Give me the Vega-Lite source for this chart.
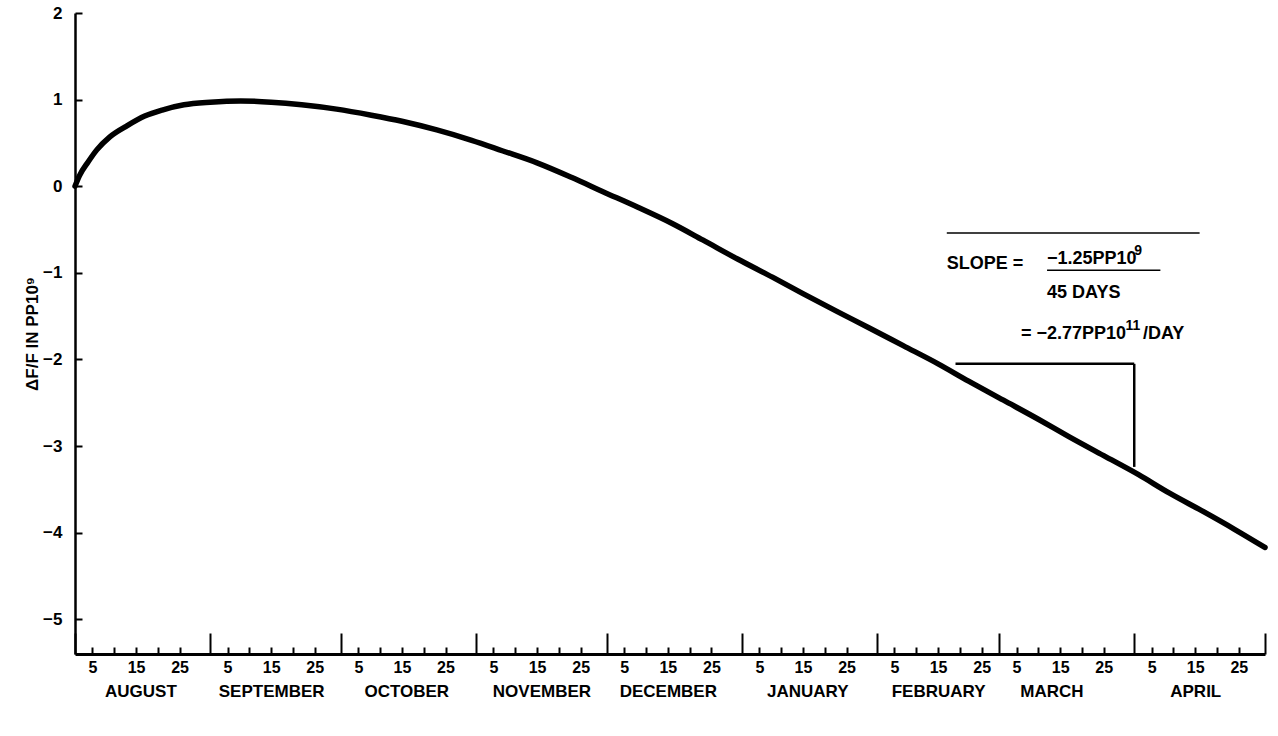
{
  "$schema": "https://vega.github.io/schema/vega-lite/v6.json",
  "width": 1190,
  "height": 641,
  "autosize": {"type": "none"},
  "padding": {"left": 75, "top": 13, "right": 13, "bottom": 82},
  "background": "white",
  "config": {
    "view": {"stroke": null},
    "font": "Liberation Sans",
    "axis": {
      "grid": false,
      "labelFont": "Liberation Sans",
      "labelFontWeight": "bold",
      "labelColor": "black",
      "titleFont": "Liberation Sans",
      "titleFontWeight": "bold",
      "titleColor": "black",
      "domainColor": "black",
      "tickColor": "black"
    }
  },
  "datasets": {
    "curve": [
      {"date": "1978-08-01", "value": 0.0},
      {"date": "1978-08-02", "value": 0.12},
      {"date": "1978-08-04", "value": 0.28},
      {"date": "1978-08-06", "value": 0.42},
      {"date": "1978-08-09", "value": 0.57},
      {"date": "1978-08-13", "value": 0.7},
      {"date": "1978-08-17", "value": 0.81},
      {"date": "1978-08-21", "value": 0.88},
      {"date": "1978-08-26", "value": 0.94},
      {"date": "1978-09-01", "value": 0.97},
      {"date": "1978-09-08", "value": 0.985},
      {"date": "1978-09-15", "value": 0.97},
      {"date": "1978-09-22", "value": 0.94},
      {"date": "1978-09-30", "value": 0.89},
      {"date": "1978-10-08", "value": 0.82},
      {"date": "1978-10-15", "value": 0.75},
      {"date": "1978-10-23", "value": 0.65},
      {"date": "1978-10-31", "value": 0.53},
      {"date": "1978-11-07", "value": 0.41},
      {"date": "1978-11-15", "value": 0.27},
      {"date": "1978-11-23", "value": 0.1},
      {"date": "1978-11-30", "value": -0.06},
      {"date": "1978-12-08", "value": -0.24},
      {"date": "1978-12-16", "value": -0.43},
      {"date": "1978-12-23", "value": -0.62},
      {"date": "1978-12-31", "value": -0.84},
      {"date": "1979-01-08", "value": -1.05},
      {"date": "1979-01-15", "value": -1.24},
      {"date": "1979-01-23", "value": -1.45},
      {"date": "1979-01-30", "value": -1.63},
      {"date": "1979-02-07", "value": -1.84},
      {"date": "1979-02-15", "value": -2.05},
      {"date": "1979-02-22", "value": -2.25},
      {"date": "1979-03-02", "value": -2.47},
      {"date": "1979-03-10", "value": -2.69},
      {"date": "1979-03-17", "value": -2.89},
      {"date": "1979-03-25", "value": -3.11},
      {"date": "1979-04-02", "value": -3.33},
      {"date": "1979-04-09", "value": -3.54},
      {"date": "1979-04-17", "value": -3.76},
      {"date": "1979-04-24", "value": -3.96},
      {"date": "1979-05-01", "value": -4.17}
    ],
    "triangle": [
      {"date": "1979-02-19", "date2": "1979-04-01", "value": -2.05, "value2": -2.05},
      {"date": "1979-04-01", "date2": "1979-04-01", "value": -2.05, "value2": -3.24}
    ],
    "rules": [
      {"date": "1979-02-17", "date2": "1979-04-16", "value": -0.54, "value2": -0.54},
      {"date": "1979-03-12", "date2": "1979-04-07", "value": -0.97, "value2": -0.97}
    ],
    "notes": [
      {"date": "1979-02-17", "value": -0.9, "label": "SLOPE ="},
      {"date": "1979-03-12", "value": -0.84, "label": "−1.25PP10"},
      {"date": "1979-03-12", "value": -1.23, "label": "45 DAYS"},
      {"date": "1979-03-06", "value": -1.7, "label": "= −2.77PP10"},
      {"date": "1979-04-03", "value": -1.7, "label": "/DAY"}
    ],
    "supers": [
      {"date": "1979-04-01", "value": -0.84, "label": "9"},
      {"date": "1979-03-30", "value": -1.7, "label": "11"}
    ]
  },
  "layer": [
    {
      "data": {"name": "curve"},
      "mark": {"type": "line", "color": "black", "strokeWidth": 5.5, "interpolate": "monotone", "strokeCap": "round"},
      "encoding": {
        "x": {
          "field": "date", "type": "temporal",
          "scale": {"type": "utc", "domain": [{"year": 1978, "month": 8, "date": 1, "utc": true}, {"year": 1979, "month": 5, "date": 1, "utc": true}], "nice": false},
          "axis": {
            "title": null,
            "orient": "bottom",
            "domainWidth": 3,
            "tickWidth": 2,
            "tickSize": {"condition": {"test": "utcdate(datum.value) == 1", "value": -21}, "value": -7},
            "labelPadding": 12,
            "labelFontSize": 16,
            "labelBaseline": "top",
            "labelOverlap": false,
            "labelFlush": false,
            "labelBound": false,
            "labelExpr": "utcdate(datum.value) % 10 == 5 ? '' + utcdate(datum.value) : ''",
            "values": [
              {"year": 1978, "month": 8, "date": 1, "utc": true},
              {"year": 1978, "month": 8, "date": 5, "utc": true},
              {"year": 1978, "month": 8, "date": 10, "utc": true},
              {"year": 1978, "month": 8, "date": 15, "utc": true},
              {"year": 1978, "month": 8, "date": 20, "utc": true},
              {"year": 1978, "month": 8, "date": 25, "utc": true},
              {"year": 1978, "month": 9, "date": 1, "utc": true},
              {"year": 1978, "month": 9, "date": 5, "utc": true},
              {"year": 1978, "month": 9, "date": 10, "utc": true},
              {"year": 1978, "month": 9, "date": 15, "utc": true},
              {"year": 1978, "month": 9, "date": 20, "utc": true},
              {"year": 1978, "month": 9, "date": 25, "utc": true},
              {"year": 1978, "month": 10, "date": 1, "utc": true},
              {"year": 1978, "month": 10, "date": 5, "utc": true},
              {"year": 1978, "month": 10, "date": 10, "utc": true},
              {"year": 1978, "month": 10, "date": 15, "utc": true},
              {"year": 1978, "month": 10, "date": 20, "utc": true},
              {"year": 1978, "month": 10, "date": 25, "utc": true},
              {"year": 1978, "month": 11, "date": 1, "utc": true},
              {"year": 1978, "month": 11, "date": 5, "utc": true},
              {"year": 1978, "month": 11, "date": 10, "utc": true},
              {"year": 1978, "month": 11, "date": 15, "utc": true},
              {"year": 1978, "month": 11, "date": 20, "utc": true},
              {"year": 1978, "month": 11, "date": 25, "utc": true},
              {"year": 1978, "month": 12, "date": 1, "utc": true},
              {"year": 1978, "month": 12, "date": 5, "utc": true},
              {"year": 1978, "month": 12, "date": 10, "utc": true},
              {"year": 1978, "month": 12, "date": 15, "utc": true},
              {"year": 1978, "month": 12, "date": 20, "utc": true},
              {"year": 1978, "month": 12, "date": 25, "utc": true},
              {"year": 1979, "month": 1, "date": 1, "utc": true},
              {"year": 1979, "month": 1, "date": 5, "utc": true},
              {"year": 1979, "month": 1, "date": 10, "utc": true},
              {"year": 1979, "month": 1, "date": 15, "utc": true},
              {"year": 1979, "month": 1, "date": 20, "utc": true},
              {"year": 1979, "month": 1, "date": 25, "utc": true},
              {"year": 1979, "month": 2, "date": 1, "utc": true},
              {"year": 1979, "month": 2, "date": 5, "utc": true},
              {"year": 1979, "month": 2, "date": 10, "utc": true},
              {"year": 1979, "month": 2, "date": 15, "utc": true},
              {"year": 1979, "month": 2, "date": 20, "utc": true},
              {"year": 1979, "month": 2, "date": 25, "utc": true},
              {"year": 1979, "month": 3, "date": 1, "utc": true},
              {"year": 1979, "month": 3, "date": 5, "utc": true},
              {"year": 1979, "month": 3, "date": 10, "utc": true},
              {"year": 1979, "month": 3, "date": 15, "utc": true},
              {"year": 1979, "month": 3, "date": 20, "utc": true},
              {"year": 1979, "month": 3, "date": 25, "utc": true},
              {"year": 1979, "month": 4, "date": 1, "utc": true},
              {"year": 1979, "month": 4, "date": 5, "utc": true},
              {"year": 1979, "month": 4, "date": 10, "utc": true},
              {"year": 1979, "month": 4, "date": 15, "utc": true},
              {"year": 1979, "month": 4, "date": 20, "utc": true},
              {"year": 1979, "month": 4, "date": 25, "utc": true},
              {"year": 1979, "month": 5, "date": 1, "utc": true}
            ]
          }
        },
        "y": {
          "field": "value", "type": "quantitative",
          "scale": {"domain": [-5.4, 2], "nice": false, "zero": false},
          "axis": {
            "title": "ΔF/F IN PP10⁹",
            "orient": "left",
            "titleFontSize": 17,
            "titlePadding": 1,
            "values": [-5, -4, -3, -2, -1, 0, 1, 2],
            "domainWidth": 2.5,
            "tickWidth": 2,
            "tickSize": -7,
            "labelPadding": 20,
            "labelFontSize": 17,
            "labelFlush": false,
            "labelBound": false
          }
        }
      }
    },
    {
      "data": {"name": "triangle"},
      "mark": {"type": "rule", "color": "black", "strokeWidth": 2.5},
      "encoding": {
        "x": {
          "field": "date", "type": "temporal",
          "scale": {"type": "utc", "domain": [{"year": 1978, "month": 8, "date": 1, "utc": true}, {"year": 1979, "month": 5, "date": 1, "utc": true}], "nice": false},
          "axis": {
            "title": null,
            "orient": "bottom",
            "domain": false,
            "ticks": false,
            "tickSize": 0,
            "labelPadding": 29,
            "labelFontSize": 17,
            "labelBaseline": "top",
            "labelOverlap": false,
            "labelFlush": false,
            "labelBound": false,
            "labelExpr": "upper(utcFormat(datum.value, '%B'))",
            "values": [
              {"year": 1978, "month": 8, "date": 16, "utc": true},
              {"year": 1978, "month": 9, "date": 15, "utc": true},
              {"year": 1978, "month": 10, "date": 16, "utc": true},
              {"year": 1978, "month": 11, "date": 16, "utc": true},
              {"year": 1978, "month": 12, "date": 15, "utc": true},
              {"year": 1979, "month": 1, "date": 16, "utc": true},
              {"year": 1979, "month": 2, "date": 15, "utc": true},
              {"year": 1979, "month": 3, "date": 13, "utc": true},
              {"year": 1979, "month": 4, "date": 15, "utc": true}
            ]
          }
        },
        "x2": {"field": "date2"},
        "y": {"field": "value", "type": "quantitative", "scale": {"domain": [-5.4, 2], "nice": false, "zero": false}, "axis": null},
        "y2": {"field": "value2"}
      }
    },
    {
      "data": {"name": "rules"},
      "mark": {"type": "rule", "color": "black", "strokeWidth": 1.5},
      "encoding": {
        "x": {"field": "date", "type": "temporal", "scale": {"type": "utc", "domain": [{"year": 1978, "month": 8, "date": 1, "utc": true}, {"year": 1979, "month": 5, "date": 1, "utc": true}], "nice": false}, "axis": null},
        "x2": {"field": "date2"},
        "y": {"field": "value", "type": "quantitative", "scale": {"domain": [-5.4, 2], "nice": false, "zero": false}, "axis": null},
        "y2": {"field": "value2"}
      }
    },
    {
      "data": {"name": "notes"},
      "mark": {"type": "text", "align": "left", "baseline": "middle", "font": "Liberation Sans", "fontWeight": "bold", "fontSize": 18, "color": "black"},
      "encoding": {
        "x": {"field": "date", "type": "temporal", "scale": {"type": "utc", "domain": [{"year": 1978, "month": 8, "date": 1, "utc": true}, {"year": 1979, "month": 5, "date": 1, "utc": true}], "nice": false}, "axis": null},
        "y": {"field": "value", "type": "quantitative", "scale": {"domain": [-5.4, 2], "nice": false, "zero": false}, "axis": null},
        "text": {"field": "label"}
      }
    },
    {
      "data": {"name": "supers"},
      "mark": {"type": "text", "align": "left", "baseline": "middle", "dy": -8, "font": "Liberation Sans", "fontWeight": "bold", "fontSize": 14, "color": "black"},
      "encoding": {
        "x": {"field": "date", "type": "temporal", "scale": {"type": "utc", "domain": [{"year": 1978, "month": 8, "date": 1, "utc": true}, {"year": 1979, "month": 5, "date": 1, "utc": true}], "nice": false}, "axis": null},
        "y": {"field": "value", "type": "quantitative", "scale": {"domain": [-5.4, 2], "nice": false, "zero": false}, "axis": null},
        "text": {"field": "label"}
      }
    }
  ],
  "resolve": {"axis": {"x": "independent", "y": "independent"}}
}
